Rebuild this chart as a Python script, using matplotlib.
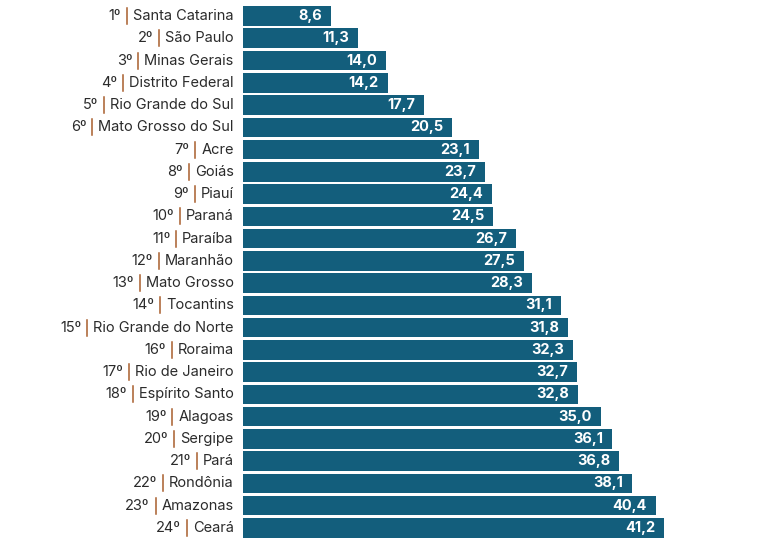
import matplotlib.pyplot as plt
from matplotlib.lines import Line2D

plt.rcParams['font.family'] = ['Inter', 'DejaVu Sans']

estados = ['Santa Catarina', 'São Paulo', 'Minas Gerais', 'Distrito Federal',
           'Rio Grande do Sul', 'Mato Grosso do Sul', 'Acre', 'Goiás', 'Piauí',
           'Paraná', 'Paraíba', 'Maranhão', 'Mato Grosso', 'Tocantins',
           'Rio Grande do Norte', 'Roraima', 'Rio de Janeiro', 'Espírito Santo',
           'Alagoas', 'Sergipe', 'Pará', 'Rondônia', 'Amazonas', 'Ceará']
valores = [8.6, 11.3, 14.0, 14.2, 17.7, 20.5, 23.1, 23.7, 24.4, 24.5, 26.7, 27.5,
           28.3, 31.1, 31.8, 32.3, 32.7, 32.8, 35.0, 36.1, 36.8, 38.1, 40.4, 41.2]
posicoes = [f'{i}º' for i in range(1, len(estados) + 1)]

bar_color = '#135e7c'
sep_color = '#a85e2c'
text_color = '#2b2b2b'
fs = 10.5

W, H = 761, 539
fig = plt.figure(figsize=(W / 100, H / 100), dpi=100)
left_px = 242.7
px_per_unit = 10.226
xmax = 50
ax = fig.add_axes([left_px / W, 0, xmax * px_per_unit / W, (H - 4.9) / H])

y = list(range(len(estados)))
ax.barh(y, valores, height=0.88, color=bar_color)
ax.set_xlim(0, xmax)
ax.set_ylim(23.5, -0.5)
ax.axis('off')

# valores dentro das barras
for i, v in enumerate(valores):
    ax.annotate(f'{v:.1f}'.replace('.', ','), xy=(v, i), xytext=(-9, 0),
                textcoords='offset pixels', ha='right', va='center',
                color='white', fontweight='bold', fontsize=fs)

# nomes dos estados
nomes = []
for i, nome in enumerate(estados):
    t = ax.annotate(nome, xy=(0, i), xytext=(-9, 0), textcoords='offset pixels',
                    ha='right', va='center', color=text_color, fontsize=fs)
    nomes.append(t)

fig.canvas.draw()
renderer = fig.canvas.get_renderer()

# separador e posição
for i, t in enumerate(nomes):
    bb = t.get_window_extent(renderer)
    x_sep = bb.x0 - 6
    yc = ax.transData.transform((0, i))[1]
    fig.add_artist(Line2D([x_sep, x_sep], [yc - 8, yc + 8], color=sep_color,
                          lw=1.1, transform=None))
    dx = x_sep - 6 - ax.transData.transform((0, i))[0]
    ax.annotate(posicoes[i], xy=(0, i), xytext=(dx, 0), textcoords='offset pixels',
                ha='right', va='center', color=text_color, fontsize=fs)

fig.savefig('out.png', dpi=100)
